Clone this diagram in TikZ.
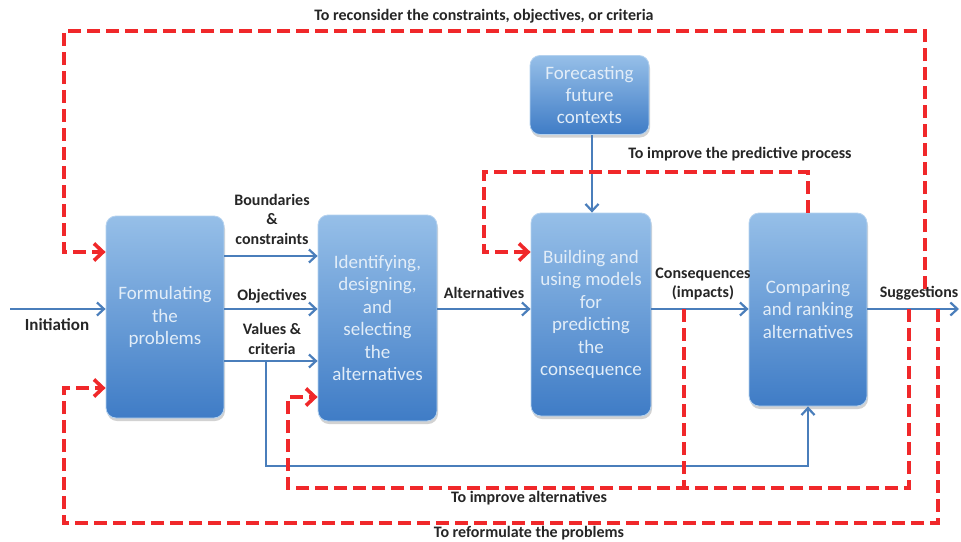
\documentclass[tikz,border=0pt]{standalone}
\usepackage{fontspec}
\setmainfont{Carlito}
\usetikzlibrary{arrows.meta,shadows}
\definecolor{flowblue}{HTML}{4A7EBB}
\definecolor{loopred}{HTML}{F0282A}
\definecolor{boxtop}{HTML}{96BFE8}
\definecolor{boxbot}{HTML}{3F7CC6}
\definecolor{boxtext}{HTML}{E2EDF8}
\tikzset{
  stagebox/.style={rounded corners=10pt, top color=boxtop, bottom color=boxbot,
    draw=boxtop!70!white, line width=0.8pt,
    drop shadow={shadow xshift=1pt, shadow yshift=-3pt, opacity=0.35},
    text=boxtext, align=center, font=\fontsize{19}{22.4}\selectfont,
    inner sep=2pt},
  flow/.style={draw=flowblue, line width=2.4pt,
    -{Straight Barb[length=7pt,width=13pt,line width=2.2pt]}},
  flowline/.style={draw=flowblue, line width=2.4pt},
  loop/.style={draw=loopred, line width=4pt, dash pattern=on 13pt off 6pt,
    -{Straight Barb[length=9pt,width=17pt,line width=3.6pt]}},
  loopline/.style={draw=loopred, line width=4pt, dash pattern=on 13pt off 6pt},
  lab/.style={font=\bfseries\fontsize{16}{19.5}\selectfont, align=center, text=black!85},
}
\begin{document}
\begin{tikzpicture}[x=1pt,y=-1pt]
\useasboundingbox (0,0) rectangle (961,541);
\fill[white] (0,0) rectangle (961,541);

% process stages
\node[stagebox, minimum width=118pt, minimum height=202pt] (form) at (165,317)
  {Formulating\\the\\problems};
\node[stagebox, minimum width=119pt, minimum height=206pt] (ident) at (377.5,318)
  {Identifying,\\designing,\\and\\selecting\\the\\alternatives};
\node[stagebox, minimum width=119pt, minimum height=79pt] (fore) at (589.5,95)
  {Forecasting\\future\\contexts};
\node[stagebox, minimum width=120pt, minimum height=203pt] (build) at (591,314.5)
  {Building and\\using models\\for\\predicting\\the\\consequence};
\node[stagebox, minimum width=118pt, minimum height=193pt] (comp) at (808,309.5)
  {Comparing\\and ranking\\alternatives};

% entry and exit points
\coordinate (init) at (10,309);
\coordinate (out) at (959,309);
\coordinate (vsplit) at (266,361);
\coordinate (vdown) at (266,466);

% forward flow
\draw[flow] (init) -- (form.west |- init);
\draw[flow] (form.east |- 0,256) -- (ident.west |- 0,256);
\draw[flow] (form.east |- 0,309) -- (ident.west |- 0,309);
\draw[flow] (form.east |- vsplit) -- (ident.west |- vsplit);
\draw[flow] (vsplit) -- (vdown) -- (comp.south |- vdown) -- (comp.south);
\draw[flow] (ident.east |- 0,309) -- (build.west |- 0,309);
\draw[flow] (fore.south -| 592,0) -- (build.north -| 592,0);
\draw[flow] (build.east |- 0,309) -- (comp.west |- 0,309);
\draw[flow] (comp.east |- 0,309) -- (out);

% feedback loops
\coordinate (rc) at (925,289);
\coordinate (rf) at (938,309);
\coordinate (ia) at (684,309);
\coordinate (ib) at (909,309);
\draw[loop] (rc) -- (925,31) -- (64,31) -- (64,252) -- (form.west |- 0,252);
\draw[loop] (rf) -- (938,523) -- (64,523) -- (64,388) -- (form.west |- 0,388);
\draw[loopline] (ia) -- (684,488);
\draw[loop] (ib) -- (909,488) -- (288,488) -- (288,397) -- (ident.west |- 0,397);
\draw[loop] (comp.north) -- (comp.north |- 0,172) -- (484,172) -- (484,252) -- (build.west |- 0,252);

% labels
\node[lab] (lrc) at (484,16) {To reconsider the constraints, objectives, or criteria};
\node[lab] (lpp) at (740,154) {To improve the predictive process};
\node[lab] (lia) at (529,498) {To improve alternatives};
\node[lab] (lrf) at (529,533.5) {To reformulate the problems};
\node[lab, font=\bfseries\fontsize{17}{19.5}\selectfont] (lin) at (57,325) {Initiation};
\node[lab] (lbc) at (272,219) {Boundaries\\\&\\constraints};
\node[lab] (lob) at (272,296) {Objectives};
\node[lab] (lvc) at (272,339) {Values \&\\criteria};
\node[lab] (lal) at (484,293) {Alternatives};
\node[lab] (lcq) at (703,284) {Consequences\\(impacts)};
\node[lab] (lsg) at (919,293) {Suggestions};
\end{tikzpicture}
\end{document}
